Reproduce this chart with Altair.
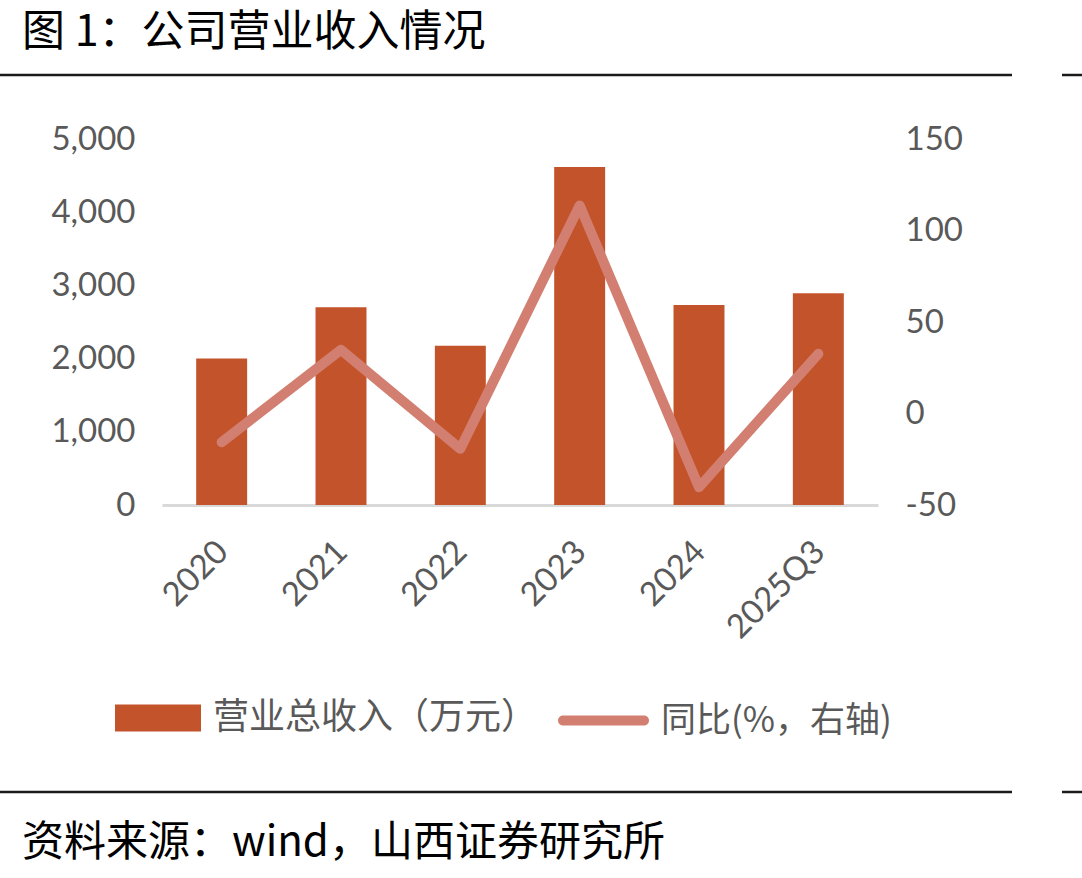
import altair as alt
import pandas as pd

# Revenue (10k CNY) and year-over-year growth (%)
periods = ["2020", "2021", "2022", "2023", "2024", "2025Q3"]
revenue = [2003, 2701, 2175, 4619, 2733, 2893]
yoy = [-15.7, 34.8, -19.3, 113.7, -40.3, 32.6]

left_ticks = [0, 1000, 2000, 3000, 4000, 5000]
right_ticks = [-50, 0, 50, 100, 150]

bar_label = "营业总收入（万元）"
line_label = "同比(%，右轴)"
title_text = "图 1：公司营业收入情况"
source_text = "资料来源：wind，山西证券研究所"

BAR_COLOR = "#C3532A"
LINE_COLOR = "#D27F71"
TEXT_GRAY = "#595959"
NUM_FONT = "Lato"
CJK_FONT = "Noto Sans CJK SC"

# legend swatch shapes (unit paths, scaled by sqrt(symbolSize)/2)
BAR_SWATCH = "M-1,-0.314H1V0.314H-1Z"
LINE_SWATCH = "M-0.89,-0.11H0.89A0.11,0.11 0 0 1 0.89,0.11H-0.89A0.11,0.11 0 0 1 -0.89,-0.11Z"

df = pd.DataFrame({"period": periods, "revenue": revenue, "yoy": yoy})
one = pd.DataFrame({"k": [0]})

x_enc = alt.X(
    "period:N",
    sort=periods,
    scale=alt.Scale(paddingInner=0.573, paddingOuter=0.2865),
    axis=alt.Axis(
        title=None,
        labelAngle=-45,
        labelFont=NUM_FONT,
        labelFontSize=33,
        labelColor=TEXT_GRAY,
        labelPadding=30,
        labelOffset=-10,
        ticks=False,
        domainColor="#D9D9D9",
        domainWidth=3,
        grid=False,
    ),
)

bars = (
    alt.Chart(df)
    .transform_calculate(series=f"'{bar_label}'")
    .mark_bar()
    .encode(
        x=x_enc,
        y=alt.Y(
            "revenue:Q",
            scale=alt.Scale(domain=[0, 5000], nice=False),
            axis=alt.Axis(
                title=None,
                values=left_ticks,
                format=",d",
                orient="left",
                labelFont=NUM_FONT,
                labelFontSize=33,
                labelColor=TEXT_GRAY,
                labelPadding=27,
                ticks=False,
                domain=False,
                grid=False,
            ),
        ),
        color=alt.Color(
            "series:N",
            scale=alt.Scale(domain=[bar_label], range=[BAR_COLOR]),
            legend=alt.Legend(
                title=None,
                orient="none",
                legendX=-47,
                legendY=536,
                padding=0,
                symbolType=BAR_SWATCH,
                symbolSize=7396,
                symbolStrokeWidth=0,
                symbolOpacity=1,
                labelFont=CJK_FONT,
                labelFontSize=36,
                labelColor=TEXT_GRAY,
                labelOffset=12,
                labelLimit=600,
            ),
        ),
    )
)

line = (
    alt.Chart(df)
    .transform_calculate(series2=f"'{line_label}'")
    .mark_line(strokeWidth=10, strokeCap="round", strokeJoin="round")
    .encode(
        x=alt.X("period:N", sort=periods),
        y=alt.Y(
            "yoy:Q",
            scale=alt.Scale(domain=[-50, 150], nice=False),
            axis=alt.Axis(
                title=None,
                values=right_ticks,
                orient="right",
                labelExpr="toString(datum.value)",
                labelFont=NUM_FONT,
                labelFontSize=33,
                labelColor=TEXT_GRAY,
                labelPadding=27,
                ticks=False,
                domain=False,
                grid=False,
            ),
        ),
        stroke=alt.Stroke(
            "series2:N",
            scale=alt.Scale(domain=[line_label], range=[LINE_COLOR]),
            legend=alt.Legend(
                title=None,
                orient="none",
                legendX=396,
                legendY=536,
                padding=0,
                symbolType=LINE_SWATCH,
                symbolSize=8281,
                symbolStrokeWidth=0,
                symbolFillColor=LINE_COLOR,
                symbolOpacity=1,
                labelFont=CJK_FONT,
                labelFontSize=35,
                labelColor=TEXT_GRAY,
                labelOffset=12,
                labelLimit=600,
            ),
        ),
    )
)

# Header / footer text and separator rules, placed relative to the plot origin
title_mark = alt.Chart(one).mark_text(
    align="left", baseline="middle", font=CJK_FONT, fontSize=43, color="#000000"
).encode(x=alt.value(-140), y=alt.value(-106), text=alt.value(title_text))

source_mark = alt.Chart(one).mark_text(
    align="left", baseline="middle", font=CJK_FONT, fontSize=42, color="#000000"
).encode(x=alt.value(-140), y=alt.value(704), text=alt.value(source_text))

rule_style = dict(color="#1a1a1a", strokeWidth=2.5)
rules = [
    alt.Chart(one).mark_rule(**rule_style).encode(
        x=alt.value(x0), x2=alt.value(x1), y=alt.value(yy)
    )
    for yy in (-64, 653)
    for (x0, x1) in ((-162, 850), (900, 920))
]

chart = (
    alt.layer(bars, line, title_mark, source_mark, *rules)
    .resolve_scale(y="independent", color="independent", stroke="independent")
    .properties(
        width=716,
        height=366,
        autosize=alt.AutoSizeParams(type="none"),
        padding={"left": 162, "top": 139, "right": 204, "bottom": 373},
        background="#ffffff",
    )
    .configure_view(stroke=None)
)

chart.save("out.html", embed_options={"renderer": "svg", "actions": False})
